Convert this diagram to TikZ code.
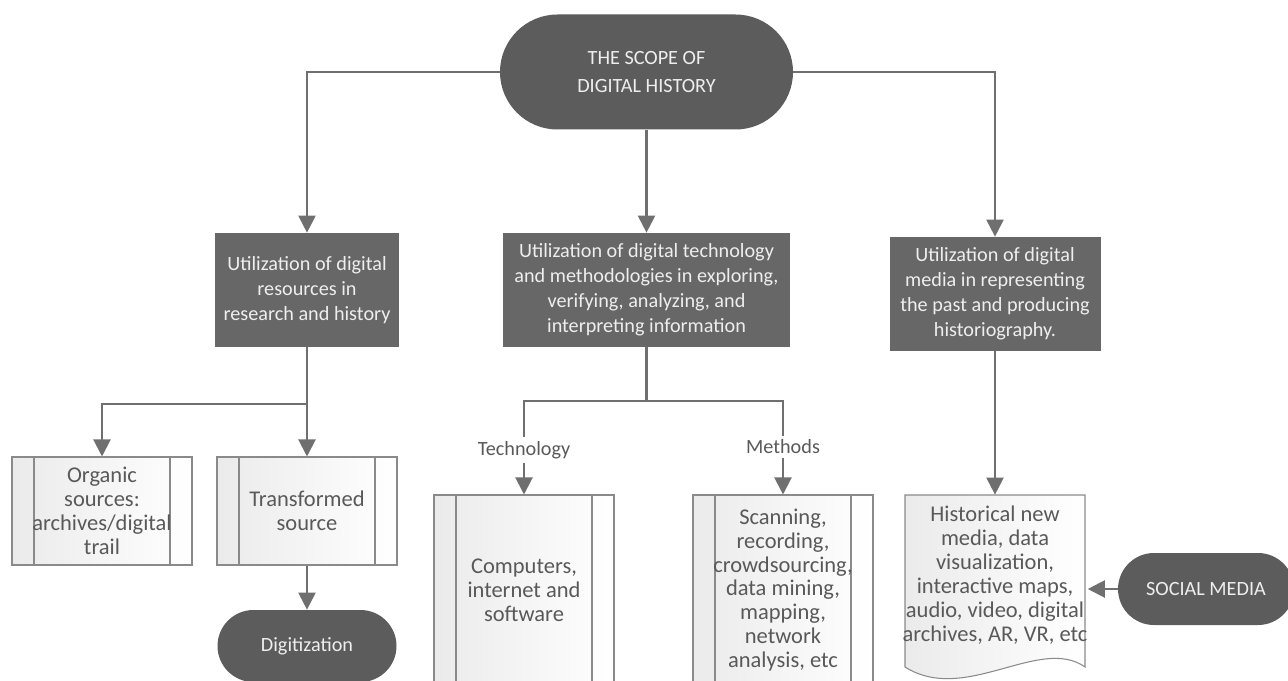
\documentclass[tikz,border=0pt]{standalone}
\usepackage{fontspec}
\setmainfont{Carlito}
\usetikzlibrary{arrows.meta}
\definecolor{termfill}{HTML}{5C5C5C}
\definecolor{boxfill}{HTML}{676767}
\definecolor{linegray}{HTML}{6F6F6F}
\definecolor{boxline}{HTML}{8A8A8A}
\definecolor{textgray}{HTML}{595959}
\definecolor{darktext}{HTML}{EEEEEE}

\begin{document}
\begin{tikzpicture}[
  terminal/.style={rectangle, rounded corners=#1, fill=termfill, text=darktext, align=center, inner sep=0pt, font=\fontsize{11.5}{15.5}\selectfont},
  terminal/.default=0.72cm,
  darkbox/.style={rectangle, fill=boxfill, text=darktext, align=center, inner sep=0pt, minimum height=2.28cm, font=\fontsize{11.5}{14.2}\selectfont},
  procbox/.style={rectangle, draw=boxline, line width=0.6pt, left color=gray!16, right color=white, text=textgray, align=center, inner sep=0pt, minimum width=3.6cm, font=\fontsize{12.8}{13.6}\selectfont,
    path picture={
      \draw[boxline, line width=0.6pt] ([xshift=0.44cm]path picture bounding box.north west) -- ([xshift=0.44cm]path picture bounding box.south west);
      \draw[boxline, line width=0.6pt] ([xshift=-0.44cm]path picture bounding box.north east) -- ([xshift=-0.44cm]path picture bounding box.south east);}},
  tag/.style={text=textgray, inner sep=2pt, font=\fontsize{11.5}{13}\selectfont},
  wire/.style={draw=linegray, line width=1.2pt},
  link/.style={wire, -{Triangle[length=0.34cm,width=0.34cm]}}
]
\useasboundingbox (0,0) rectangle (25.76,-13.6);

%Depth 0
\node[terminal=1.15cm, minimum width=5.86cm, minimum height=2.3cm] (scope) at (12.93,-1.44) {THE SCOPE OF\\DIGITAL HISTORY};

%Depth 1
\node[darkbox, minimum width=3.68cm] (resources) at (6.14,-5.8) {Utilization of digital\\resources in\\research and history};
\node[darkbox, minimum width=5.74cm] (technology) at (12.93,-5.8) {Utilization of digital technology\\and methodologies in exploring,\\verifying, analyzing, and\\interpreting information};
\node[darkbox, minimum width=4.22cm] (media) at (19.9,-5.88) {Utilization of digital\\media in representing\\the past and producing\\historiography.};
\draw[link] (scope.west) -| (resources.north);
\draw[link] (scope.south) -- (technology.north);
\draw[link] (scope.east) -| (media.north);

%Depth 2, resources
\node[procbox, minimum height=2.16cm] (organic) at (2.04,-10.22) {Organic\\sources:\\archives/digital\\trail};
\node[procbox, minimum height=2.16cm] (transformed) at (6.14,-10.22) {Transformed\\source};
\node[terminal, minimum width=3.58cm, minimum height=1.44cm] (digitization) at (6.14,-12.92) {Digitization};
\coordinate (leftsplit) at (6.14,-8.08);
\draw[wire] (resources.south) -- (leftsplit);
\draw[link] (leftsplit) -| (organic.north);
\draw[link] (leftsplit) -- (transformed.north);
\draw[link] (transformed.south) -- (digitization.north);

%Depth 2, technology
\node[tag] (techtag) at (10.48,-9.0) {Technology};
\node[tag] (methtag) at (15.66,-8.94) {Methods};
\node[procbox, minimum height=3.8cm] (tools) at (10.48,-11.8) {Computers,\\internet and\\software};
\node[procbox, minimum height=3.8cm] (methods) at (15.66,-11.8) {Scanning,\\recording,\\crowdsourcing,\\data mining,\\mapping,\\network\\analysis, etc};
\coordinate (midsplit) at (12.93,-8.02);
\draw[wire] (technology.south) -- (midsplit);
\draw[wire] (midsplit) -| (techtag.north);
\draw[wire] (midsplit) -| (methtag.north);
\draw[link] (techtag.south) -- (tools.north);
\draw[link] (methtag.south) -- (methods.north);

%Depth 2, media
\draw[draw=boxline, line width=0.6pt, left color=gray!16, right color=white] (18.1,-9.9) -- (21.7,-9.9) -- (21.7,-13.34) .. controls (20.8,-12.7) and (19.3,-14.1) .. (18.1,-13.34) -- cycle;
\node[text=textgray, align=center, inner sep=0pt, minimum width=3.6cm, minimum height=3.2cm, font=\fontsize{12.8}{13.6}\selectfont] (hist) at (19.9,-11.5) {Historical new\\media, data\\visualization,\\interactive maps,\\audio, video, digital\\archives, AR, VR, etc};
\node[terminal, minimum width=3.52cm, minimum height=1.44cm] (social) at (24.12,-11.78) {SOCIAL MEDIA};
\draw[link] (media.south) -- (hist.north);
\draw[link] (social.west) -- (social.west -| hist.east);
\end{tikzpicture}
\end{document}
